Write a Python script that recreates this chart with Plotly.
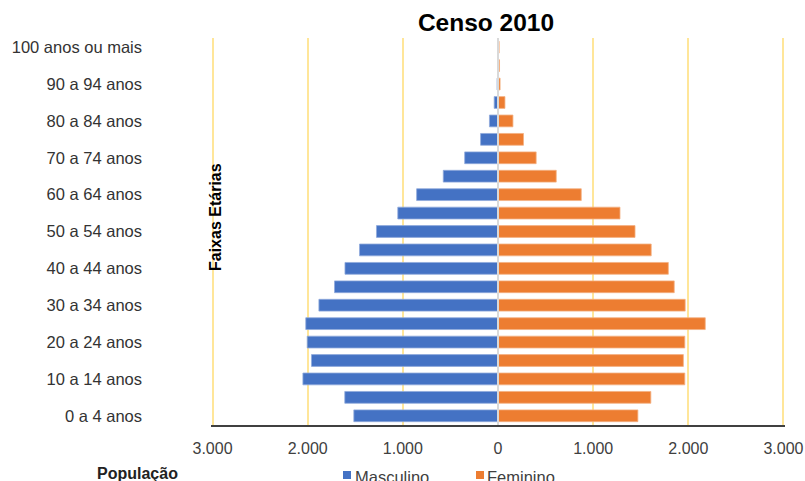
import plotly.graph_objects as go

# Faixas etárias (de baixo para cima) e população por sexo
faixas = [
    "0 a 4 anos", "5 a 9 anos", "10 a 14 anos", "15 a 19 anos", "20 a 24 anos",
    "25 a 29 anos", "30 a 34 anos", "35 a 39 anos", "40 a 44 anos", "45 a 49 anos",
    "50 a 54 anos", "55 a 59 anos", "60 a 64 anos", "65 a 69 anos", "70 a 74 anos",
    "75 a 79 anos", "80 a 84 anos", "85 a 89 anos", "90 a 94 anos", "95 a 99 anos",
    "100 anos ou mais",
]
masculino = [1515, 1610, 2050, 1960, 2005, 2020, 1882, 1718, 1608, 1455,
             1277, 1053, 855, 575, 350, 183, 90, 40, 10, 4, 2]
feminino = [1470, 1606, 1963, 1948, 1963, 2178, 1967, 1852, 1790, 1610,
            1440, 1282, 875, 612, 401, 268, 157, 73, 22, 16, 12]

# Rótulos do eixo de idades: uma faixa sim, outra não
faixas_rotuladas = faixas[::2]

# Eixo da população (valores masculinos ficam à esquerda)
x_ticks = [-3000, -2000, -1000, 0, 1000, 2000, 3000]
x_labels = ["3.000", "2.000", "1.000", "0", "1.000", "2.000", "3.000"]

AZUL = "#4472C4"
LARANJA = "#ED7D31"
FONTE = "Liberation Sans, Arial, sans-serif"

# Área de plotagem, em pixels
W, H = 805, 481
ML, MR, MT, MB = 211, 20, 38, 56
PW, PH = W - ML - MR, H - MT - MB
# folga mínima para que as linhas de grade de ±3.000 continuem visíveis
X_MAX = 3016


def px_x(px):
    return (px - ML) / PW


def px_y(py):
    return (H - MB - py) / PH


fig = go.Figure()
fig.add_trace(go.Bar(
    y=faixas, x=[-v for v in masculino], orientation="h", name="Masculino",
    marker=dict(color=AZUL, line=dict(color="#8FAADC", width=0.8)),
))
fig.add_trace(go.Bar(
    y=faixas, x=feminino, orientation="h", name="Feminino",
    marker=dict(color=LARANJA, line=dict(color="#F4B183", width=0.8)),
))

# Legenda desenhada abaixo do gráfico: quadrado colorido + nome da série
legenda = [("Masculino", AZUL, 343, 355), ("Feminino", LARANJA, 476, 487)]
legend_shapes = []
legend_notes = []
for nome, cor, x_quad, x_txt in legenda:
    legend_shapes.append(dict(
        type="rect", xref="paper", yref="paper",
        x0=px_x(x_quad), x1=px_x(x_quad + 8), y0=px_y(479), y1=px_y(471),
        fillcolor=cor, line=dict(width=0), layer="above",
    ))
    legend_notes.append(dict(
        text=nome, xref="paper", yref="paper",
        x=px_x(x_txt - 2), y=px_y(477), xanchor="left", yanchor="middle",
        showarrow=False, font=dict(family=FONTE, size=16.5, color="#404040"),
    ))

fig.update_layout(
    width=W, height=H,
    margin=dict(l=ML, r=MR, t=MT, b=MB, autoexpand=False),
    paper_bgcolor="white", plot_bgcolor="white",
    barmode="relative", bargap=0.36,
    font=dict(family=FONTE, size=16, color="#404040"),
    title=dict(
        text="<b>Censo 2010</b>", font=dict(family=FONTE, size=24.5, color="black"),
        x=486 / W, xref="container", xanchor="center",
        y=1 - 22 / H, yref="container", yanchor="middle",
    ),
    showlegend=False,
    xaxis=dict(
        range=[-X_MAX, X_MAX], tickvals=x_ticks, ticktext=x_labels,
        showgrid=True, gridcolor="#FFE699", gridwidth=1.5,
        zeroline=False,
        showline=True, linecolor="#404040", linewidth=2,
        ticks="", ticklabelstandoff=8, automargin=False,
        tickfont=dict(family=FONTE, size=16, color="#404040"),
        fixedrange=True,
    ),
    yaxis=dict(
        type="category", categoryorder="array", categoryarray=faixas,
        tickvals=faixas_rotuladas, ticktext=faixas_rotuladas,
        showgrid=False, zeroline=False, showline=False,
        ticks="", ticklabelstandoff=68, automargin=False,
        tickfont=dict(family=FONTE, size=16.5, color="#333333"),
        fixedrange=True,
    ),
    shapes=[
        # linha central do eixo zero, acima das barras
        dict(type="line", xref="x", yref="paper", x0=0, x1=0, y0=0, y1=1,
             line=dict(color="#D9D9D9", width=2), layer="above"),
    ] + legend_shapes,
    annotations=[
        dict(text="<b>Faixas Etárias</b>", textangle=-90,
             xref="paper", yref="paper",
             x=px_x(215), y=px_y(217), xanchor="center", yanchor="middle",
             showarrow=False, font=dict(family=FONTE, size=16, color="black")),
        dict(text="<b>População</b>",
             xref="paper", yref="paper",
             x=px_x(137), y=px_y(463), xanchor="center", yanchor="top",
             showarrow=False, font=dict(family=FONTE, size=16, color="#222222")),
    ] + legend_notes,
)

fig.write_html("out.html", config={"displayModeBar": False})
